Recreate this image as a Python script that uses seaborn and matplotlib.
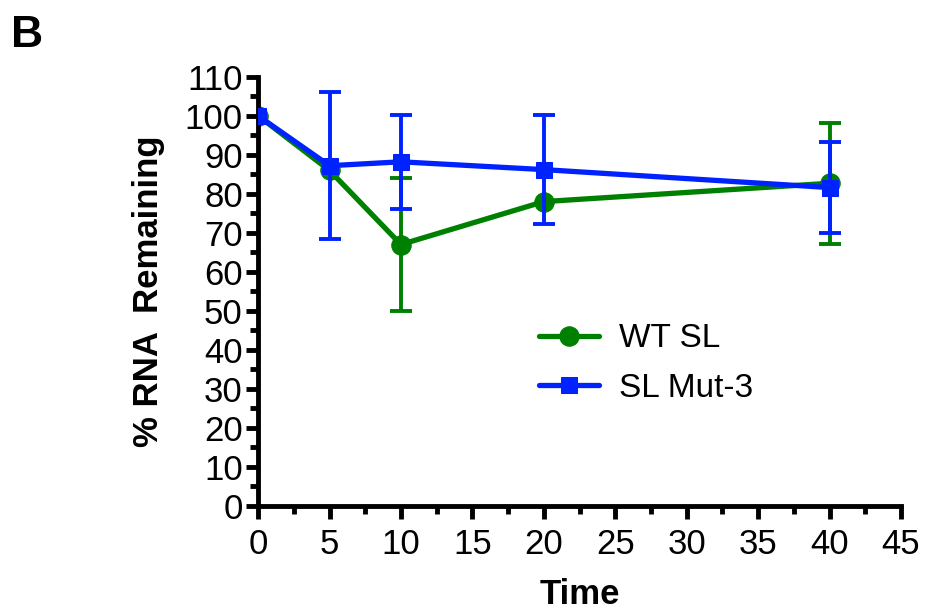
import matplotlib
matplotlib.use("Agg")
import matplotlib.pyplot as plt
from matplotlib.ticker import MultipleLocator
import seaborn as sns
import pandas as pd
import numpy as np

time = [0, 5, 10, 20, 40]
wt_mean = [100, 86, 67, 78, 82.7]
wt_err = [0, 0, 17, 0, 15.5]
mut_mean = [100, 87.2, 88.2, 86.2, 81.6]
mut_err = [0, 18.9, 12, 14, 11.7]
series_names = ["WT SL", "SL Mut-3"]
colors = {"WT SL": "#008000", "SL Mut-3": "#0022FF"}
markers = {"WT SL": "o", "SL Mut-3": "s"}

sns.set_theme(style="ticks")
plt.rcParams["font.family"] = ["Liberation Sans", "DejaVu Sans"]
plt.rcParams["text.color"] = "black"
plt.rcParams["axes.labelcolor"] = "black"

df = pd.DataFrame({
    "Time": time * 2,
    "Value": wt_mean + mut_mean,
    "Err": wt_err + mut_err,
    "Series": [series_names[0]] * len(time) + [series_names[1]] * len(time),
})

fig = plt.figure(figsize=(9.25, 6.14), dpi=100)
ax = fig.add_axes([0.279, 0.176, 0.695, 0.699])

for i, name in enumerate(series_names):
    sub = df[df["Series"] == name]
    sns.lineplot(data=sub, x="Time", y="Value", ax=ax, color=colors[name],
                 marker=markers[name], markersize=14 if name == "WT SL" else 12,
                 markeredgecolor=colors[name], linewidth=3.8, label=name,
                 zorder=2 + 2 * i)
    e = sub["Err"].to_numpy()
    mask = e > 0
    ax.errorbar(sub["Time"].to_numpy()[mask], sub["Value"].to_numpy()[mask],
                yerr=e[mask], fmt="none", ecolor=colors[name], elinewidth=2.8,
                capsize=8, capthick=2.8, zorder=1.5 + 2 * i)

ax.set_xlim(0, 45)
ax.set_ylim(0, 110)
ax.xaxis.set_major_locator(MultipleLocator(5))
ax.xaxis.set_minor_locator(MultipleLocator(2.5))
ax.yaxis.set_major_locator(MultipleLocator(10))
ax.yaxis.set_minor_locator(MultipleLocator(5))
for s in ["top", "right"]:
    ax.spines[s].set_visible(False)
for s in ["left", "bottom"]:
    ax.spines[s].set_linewidth(3.5)
    ax.spines[s].set_color("black")
ax.tick_params(which="major", length=9, width=3.5, colors="black",
               labelsize=25, pad=2)
ax.tick_params(axis="x", which="major", pad=7)
ax.tick_params(which="minor", length=6, width=3.5, colors="black")
ax.set_xlabel("Time", fontsize=25, fontweight="bold", labelpad=12)
ax.set_ylabel("% RNA  Remaining", fontsize=25, fontweight="bold", labelpad=14)

leg = ax.legend(loc="upper left", bbox_to_anchor=(0.39, 0.495), frameon=False,
                fontsize=24, handlelength=1.8, labelspacing=0.55,
                handletextpad=0.6)

fig.text(0.012, 0.975, "B", fontsize=32, fontweight="bold", va="top", ha="left",
         color="black")

fig.savefig("out.png", dpi=100)
